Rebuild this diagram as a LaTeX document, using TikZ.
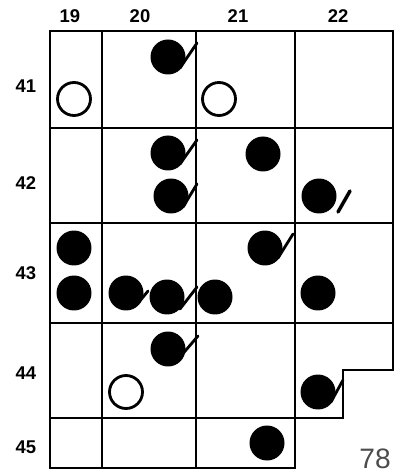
\documentclass[tikz,border=0pt]{standalone}
\usepackage{fontspec}
\setmainfont{Liberation Sans}
\begin{document}
\begin{tikzpicture}[x=0.02cm,y=-0.02cm,
  grid/.style={line width=1.1pt},
  dot/.style={circle,fill=black,minimum size=0.7cm,inner sep=0pt},
  ring/.style={circle,draw,line width=1.6pt,minimum size=0.66cm,inner sep=0pt},
  tick/.style={line width=1.6pt,line cap=round},
  lab/.style={font=\bfseries\fontsize{10.5}{10.5}\selectfont}]
\useasboundingbox (0,0) rectangle (402,475);
% frame and grid
\draw[grid] (50,31)--(393,31)--(393,370)--(343,370)--(343,418)--(295,418)--(295,468)--(50,468)--cycle;
\foreach \y in {128,223,323} \draw[grid] (50,\y)--(393,\y);
\draw[grid] (50,418)--(295,418);
\foreach \x in {102,196,295} \draw[grid] (\x,31)--(\x,468);
% labels
\foreach \c/\x in {19/70,20/140,21/238,22/338} \node[lab] (c\c) at (\x,16) {\c};
\foreach \r/\y in {41/86,42/183,43/273,44/373,45/447} \node[lab] (r\r) at (26,\y) {\r};
\node[font=\fontsize{16}{16}\selectfont,text=black!70] (pg) at (375,459) {78};
% row 41
\node[dot] (d41a) at (168,57) {};
\node[ring] (o41a) at (74,99) {};
\node[ring] (o41b) at (219,99) {};
\draw[tick] (d41a) ++(12,11) -- ++(17,-25);
% row 42
\node[dot] (d42a) at (168,153) {};
\node[dot] (d42b) at (263,154) {};
\node[dot] (d42c) at (171,196) {};
\node[dot] (d42d) at (319,196) {};
\draw[tick] (d42a) ++(12,11) -- ++(17,-24);
\draw[tick] (d42c) ++(12,11) -- ++(14,-23);
\draw[tick,line width=2pt] (d42d) ++(19,16) -- ++(12,-21);
% row 43
\node[dot] (d43a) at (74,248) {};
\node[dot] (d43b) at (74,293) {};
\node[dot] (d43c) at (126,293) {};
\node[dot] (d43d) at (167,297) {};
\node[dot] (d43e) at (215,297) {};
\node[dot] (d43f) at (265,248) {};
\node[dot] (d43g) at (318,293) {};
\draw[tick] (d43c) ++(13,9) -- ++(9,-11);
\draw[tick] (d43d) ++(13,12) -- ++(17,-22);
\draw[tick] (d43f) ++(13,10) -- ++(15,-24);
% row 44
\node[dot] (d44a) at (168,349) {};
\node[ring] (o44a) at (126,392) {};
\node[dot] (d44b) at (318,392) {};
\draw[tick] (d44a) ++(12,8) -- ++(18,-21);
\draw[tick] (d44b) ++(13,10) -- ++(12,-22);
% row 45
\node[dot] (d45a) at (267,443) {};
\end{tikzpicture}
\end{document}
